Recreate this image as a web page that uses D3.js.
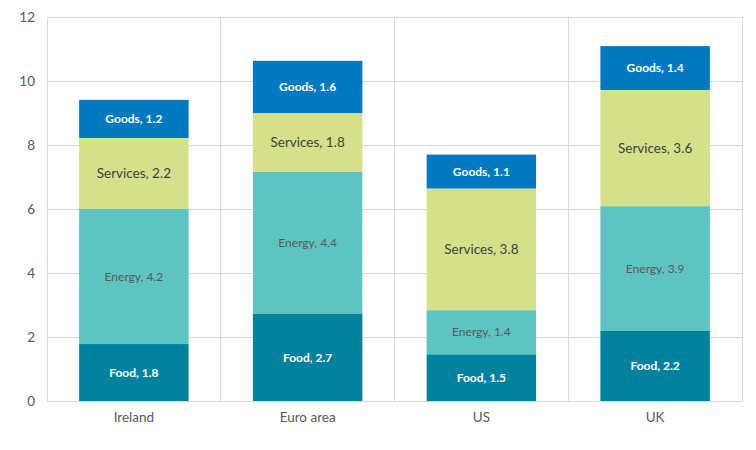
<!DOCTYPE html>
<html><head><meta charset="utf-8">
<script src="https://cdn.jsdelivr.net/npm/d3@7"></script>
<style>body{margin:0;background:#fff}svg{display:block;font-family:Lato,"Open Sans",sans-serif}</style>
</head><body><svg id="c" width="756" height="450"></svg>
<script>
const categories = ["Ireland", "Euro area", "US", "UK"];
const seriesNames = ["Food", "Energy", "Services", "Goods"];
const food = [1.78, 2.72, 1.46, 2.19];
const energy = [4.22, 4.44, 1.38, 3.90];
const services = [2.22, 1.84, 3.80, 3.63];
const goods = [1.19, 1.63, 1.06, 1.37];
const yTicks = [0, 2, 4, 6, 8, 10, 12];
const colors = ["#00829F", "#5EC4C1", "#D4E18A", "#0079C1"];

const svg = d3.select("#c");
const m = {l: 47, r: 14, t: 17, b: 49};
const W = 756, H = 450;
const x = d3.scaleBand().domain(categories).range([m.l, W - m.r]).paddingInner(0.37).paddingOuter(0.185);
const xCat = d3.scaleBand().domain(categories).range([m.l, W - m.r]);
const y = d3.scaleLinear().domain([0, 12]).range([H - m.b, m.t]);

const grid = svg.append("g");
grid.selectAll("line.h").data(yTicks).join("line")
  .attr("x1", m.l).attr("x2", W - m.r).attr("y1", d => y(d)).attr("y2", d => y(d))
  .attr("stroke", "#d9d9d9").attr("stroke-width", 1).attr("shape-rendering", "crispEdges");
const vx = categories.map(c => xCat(c)).concat([W - m.r]);
grid.selectAll("line.v").data(vx).join("line")
  .attr("x1", d => d).attr("x2", d => d).attr("y1", m.t).attr("y2", H - m.b)
  .attr("stroke", "#d9d9d9").attr("stroke-width", 1).attr("shape-rendering", "crispEdges");

const rows = categories.map((c, i) => ({cat: c, Food: food[i], Energy: energy[i], Services: services[i], Goods: goods[i]}));
const stack = d3.stack().keys(seriesNames)(rows);

const labelStyle = {
  Food: {fill: "#ffffff", size: 12, weight: 700},
  Energy: {fill: "#595959", size: 12, weight: 400},
  Services: {fill: "#404040", size: 13.5, weight: 400},
  Goods: {fill: "#ffffff", size: 12, weight: 700}
};

stack.forEach((s, si) => {
  const g = svg.append("g");
  g.selectAll("rect").data(s).join("rect")
    .attr("x", d => x(d.data.cat)).attr("width", x.bandwidth())
    .attr("y", d => y(d[1])).attr("height", d => y(d[0]) - y(d[1]))
    .attr("fill", colors[si]);
  const st = labelStyle[s.key];
  g.selectAll("text").data(s).join("text")
    .attr("x", d => x(d.data.cat) + x.bandwidth() / 2)
    .attr("y", d => (y(d[0]) + y(d[1])) / 2)
    .attr("dy", "0.35em").attr("text-anchor", "middle")
    .attr("fill", st.fill).attr("font-size", st.size).attr("font-weight", st.weight)
    .text(d => s.key + ", " + d3.format(".1f")(d.data[s.key]));
});

const yAxis = svg.append("g").attr("transform", `translate(${m.l},0)`)
  .call(d3.axisLeft(y).tickValues(yTicks).tickSize(0).tickPadding(12));
yAxis.select(".domain").remove();
yAxis.selectAll("text").attr("fill", "#595959").attr("font-size", 13.5).attr("font-family", "Lato, sans-serif");

const xAxis = svg.append("g").attr("transform", `translate(0,${H - m.b})`)
  .call(d3.axisBottom(x).tickSize(0).tickPadding(11));
xAxis.select(".domain").attr("stroke", "#d9d9d9");
xAxis.selectAll("text").attr("fill", "#595959").attr("font-size", 13.5).attr("font-family", "Lato, sans-serif");
</script></body></html>
